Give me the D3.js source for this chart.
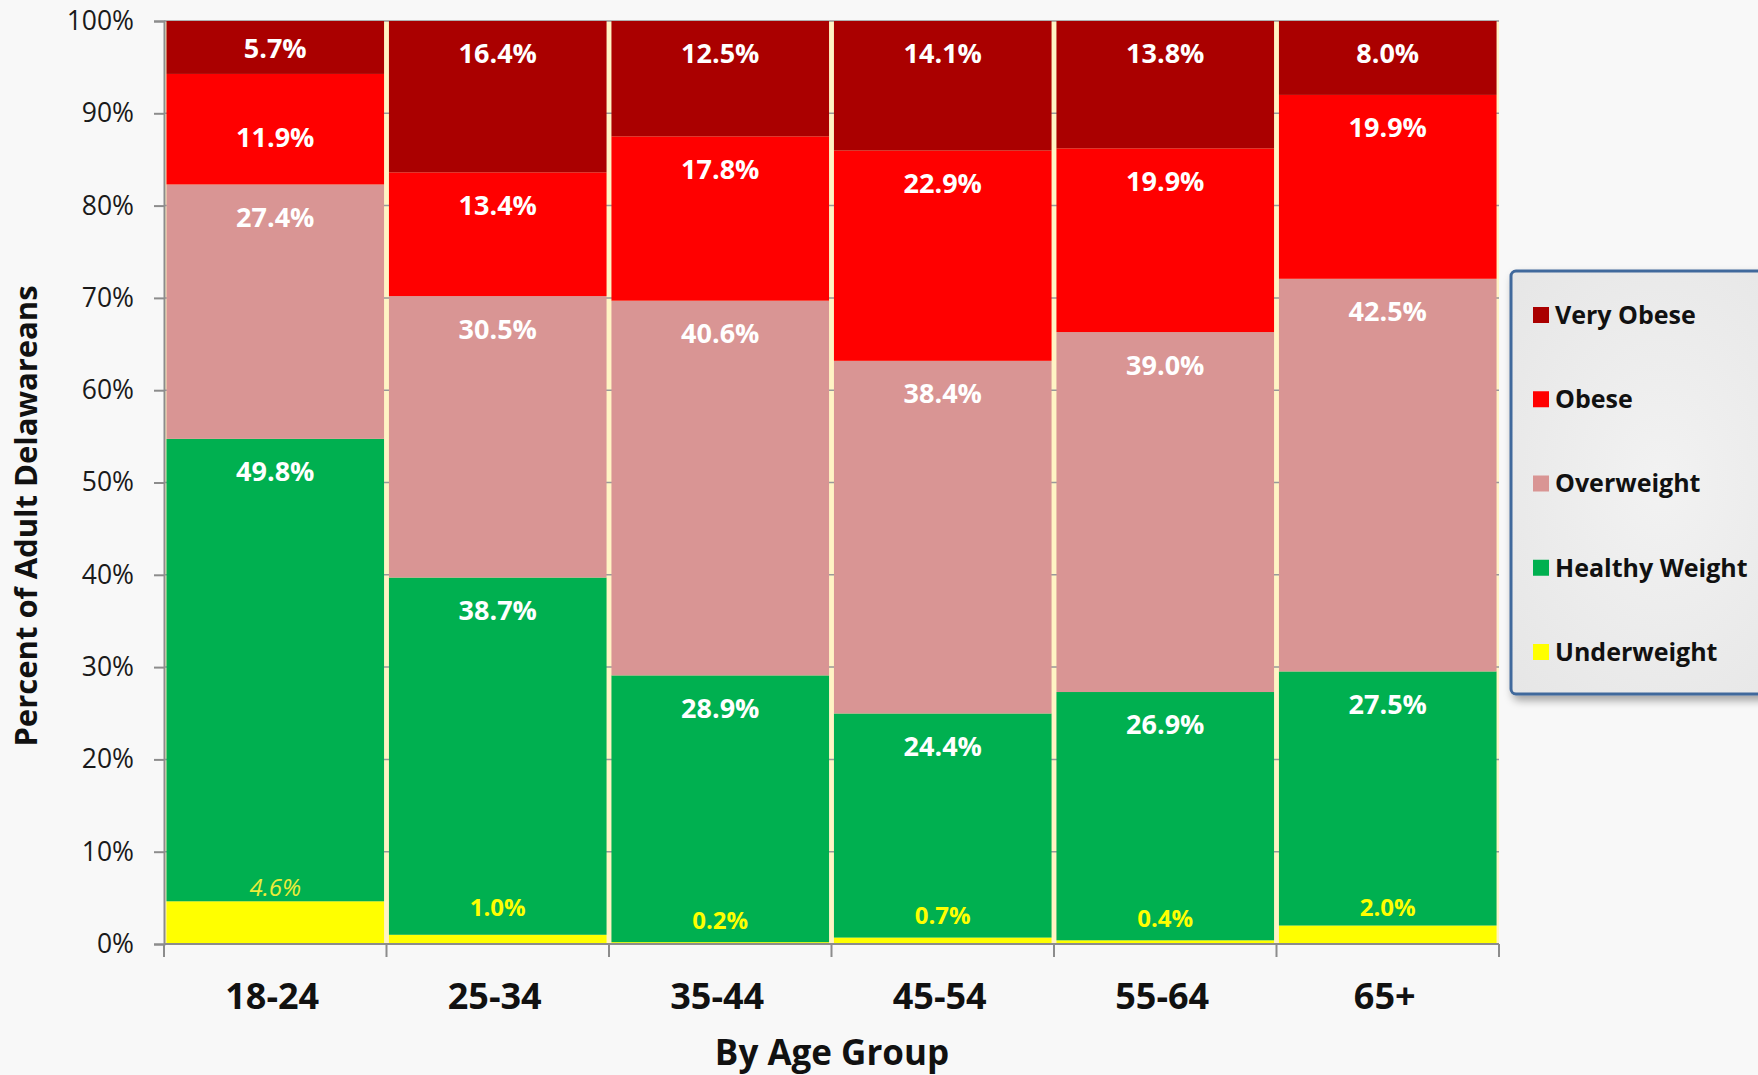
<!DOCTYPE html>
<html>
<head>
<meta charset="utf-8">
<script src="https://cdn.jsdelivr.net/npm/d3@7"></script>
<style>
  html, body { margin: 0; padding: 0; background: #f8f8f8; }
  svg { display: block; font-family: 'Open Sans', sans-serif; }
</style>
</head>
<body>
<svg id="chart" width="1758" height="1075"></svg>
<script>
// ---- data ----
const categories = ["18-24", "25-34", "35-44", "45-54", "55-64", "65+"];
const seriesNames = ["Underweight", "Healthy Weight", "Overweight", "Obese", "Very Obese"];
const underweight   = [4.6, 1.0, 0.2, 0.7, 0.4, 2.0];
const healthyWeight = [49.8, 38.7, 28.9, 24.4, 26.9, 27.5];
const overweight    = [27.4, 30.5, 40.6, 38.4, 39.0, 42.5];
const obese         = [11.9, 13.4, 17.8, 22.9, 19.9, 19.9];
const veryObese     = [5.7, 16.4, 12.5, 14.1, 13.8, 8.0];
const yTickValues   = [0, 0.1, 0.2, 0.3, 0.4, 0.5, 0.6, 0.7, 0.8, 0.9, 1.0];
const yTickLabels   = ["0%", "10%", "20%", "30%", "40%", "50%", "60%", "70%", "80%", "90%", "100%"];
const xTitle = "By Age Group";
const yTitle = "Percent of Adult Delawareans";

const seriesValues = {
  "Underweight": underweight,
  "Healthy Weight": healthyWeight,
  "Overweight": overweight,
  "Obese": obese,
  "Very Obese": veryObese
};
const colors = {
  "Underweight": "#ffff00",
  "Healthy Weight": "#00b050",
  "Overweight": "#d99594",
  "Obese": "#ff0000",
  "Very Obese": "#aa0000"
};

const table = categories.map((c, i) => {
  const row = { cat: c };
  seriesNames.forEach(s => row[s] = seriesValues[s][i]);
  return row;
});

// ---- layout ----
const svg = d3.select("#chart");
const pLeft = 164, pRight = 1499, pTop = 21, pBottom = 944;

const x = d3.scaleBand().domain(categories).range([pLeft, pRight])
  .paddingInner(0.022).paddingOuter(0.011);
const y = d3.scaleLinear().domain([0, 1]).range([pBottom, pTop]);

const stacked = d3.stack().keys(seriesNames).offset(d3.stackOffsetExpand)(table);

// plot background (cream, visible between bars)
svg.append("rect")
  .attr("x", pLeft).attr("y", pTop)
  .attr("width", pRight - pLeft).attr("height", pBottom - pTop)
  .attr("fill", "#fff4c4");

// gridlines
svg.append("g").selectAll("line").data(yTickValues).join("line")
  .attr("x1", pLeft).attr("x2", pRight)
  .attr("y1", d => y(d)).attr("y2", d => y(d))
  .attr("stroke", "#999").attr("stroke-width", 1.5);

// bars
const layers = svg.append("g").selectAll("g").data(stacked).join("g")
  .attr("fill", d => colors[d.key]);
layers.selectAll("rect").data(d => d).join("rect")
  .attr("x", d => x(d.data.cat))
  .attr("width", x.bandwidth())
  .attr("y", d => y(d[1]))
  .attr("height", d => y(d[0]) - y(d[1]));

// y axis
const yAxis = d3.axisLeft(y).tickValues(yTickValues)
  .tickFormat((d, i) => yTickLabels[i]).tickSize(10).tickPadding(20);
const gy = svg.append("g").attr("transform", `translate(${pLeft},0)`).call(yAxis);
gy.select(".domain").attr("stroke", "#8c8c8c").attr("stroke-width", 2);
gy.selectAll(".tick line").attr("stroke", "#8c8c8c").attr("stroke-width", 2);
gy.selectAll(".tick text").attr("font-size", 26.5).attr("fill", "#1a1a1a")
  .attr("font-family", "'Open Sans', sans-serif");

// x axis (line + boundary ticks)
const xAxisG = svg.append("g");
xAxisG.append("line").attr("x1", pLeft).attr("x2", pRight)
  .attr("y1", pBottom).attr("y2", pBottom)
  .attr("stroke", "#8c8c8c").attr("stroke-width", 2);
const boundaries = categories.map(c => x(c) - x.step() * x.paddingInner() / 2);
boundaries.push(pRight);
boundaries[0] = pLeft;
xAxisG.selectAll("line.bt").data(boundaries).join("line").attr("class", "bt")
  .attr("x1", d => d).attr("x2", d => d)
  .attr("y1", pBottom).attr("y2", pBottom + 13)
  .attr("stroke", "#8c8c8c").attr("stroke-width", 2);
xAxisG.selectAll("text").data(categories).join("text")
  .attr("x", d => x(d) + x.bandwidth() / 2 - 3)
  .attr("y", 1009)
  .attr("text-anchor", "middle")
  .attr("font-size", 36).attr("font-weight", 700).attr("fill", "#111")
  .text(d => d);

// axis titles
svg.append("text")
  .attr("x", 832).attr("y", 1065)
  .attr("text-anchor", "middle")
  .attr("font-size", 35).attr("font-weight", 700).attr("fill", "#111")
  .text(xTitle);
svg.append("text")
  .attr("transform", "translate(37,516) rotate(-90)")
  .attr("text-anchor", "middle")
  .attr("font-size", 31).attr("font-weight", 700).attr("fill", "#111")
  .text(yTitle);

// data labels
const nudge = { "Obese|18-24": 31, "Very Obese|18-24": -5, "Underweight|18-24": 8,
                "Underweight|25-34": -5, "Underweight|65+": 4 };
stacked.forEach(layer => {
  const key = layer.key;
  const g = svg.append("g");
  layer.forEach((d, i) => {
    const val = seriesValues[key][i];
    const cx = x(d.data.cat) + x.bandwidth() / 2;
    const n = nudge[key + "|" + d.data.cat] || 0;
    const t = g.append("text")
      .attr("x", cx)
      .attr("text-anchor", "middle")
      .attr("dy", "0.35em")
      .text(val.toFixed(1) + "%");
    if (key === "Underweight") {
      const italic = d.data.cat === "18-24";
      t.attr("y", y(d[1]) - 22 + n)
        .attr("font-size", 24)
        .attr("font-weight", italic ? 400 : 700)
        .attr("font-style", italic ? "italic" : "normal")
        .attr("fill", italic ? "#ecec3a" : "#ffff00");
    } else {
      t.attr("y", y(d[1]) + 33 + n)
        .attr("font-size", 27).attr("font-weight", 700).attr("fill", "#ffffff");
    }
  });
});

// legend
const defs = svg.append("defs");
const f = defs.append("filter").attr("id", "sh").attr("x", "-10%").attr("y", "-10%")
  .attr("width", "130%").attr("height", "130%");
f.append("feDropShadow").attr("dx", 3).attr("dy", 5).attr("stdDeviation", 4)
  .attr("flood-color", "#000").attr("flood-opacity", 0.35);
const rg = defs.append("radialGradient").attr("id", "lg").attr("cx", "50%").attr("cy", "50%").attr("r", "70%");
rg.append("stop").attr("offset", "0%").attr("stop-color", "#f2f2f2");
rg.append("stop").attr("offset", "100%").attr("stop-color", "#e6e6e6");

svg.append("rect")
  .attr("x", 1511).attr("y", 271).attr("width", 300).attr("height", 423)
  .attr("rx", 5)
  .attr("fill", "url(#lg)").attr("stroke", "#41699c").attr("stroke-width", 3)
  .attr("filter", "url(#sh)");

const legendOrder = seriesNames.slice().reverse();
const ly = d3.scalePoint().domain(legendOrder).range([315, 652]);
const li = svg.append("g").selectAll("g").data(legendOrder).join("g")
  .attr("transform", d => `translate(1533,${ly(d)})`);
li.append("rect").attr("x", 0).attr("y", -8).attr("width", 16).attr("height", 16)
  .attr("fill", d => colors[d]);
li.append("text").attr("x", 22).attr("dy", "0.35em")
  .attr("font-size", 25).attr("font-weight", 700).attr("fill", "#111")
  .text(d => d);
</script>
</body>
</html>
